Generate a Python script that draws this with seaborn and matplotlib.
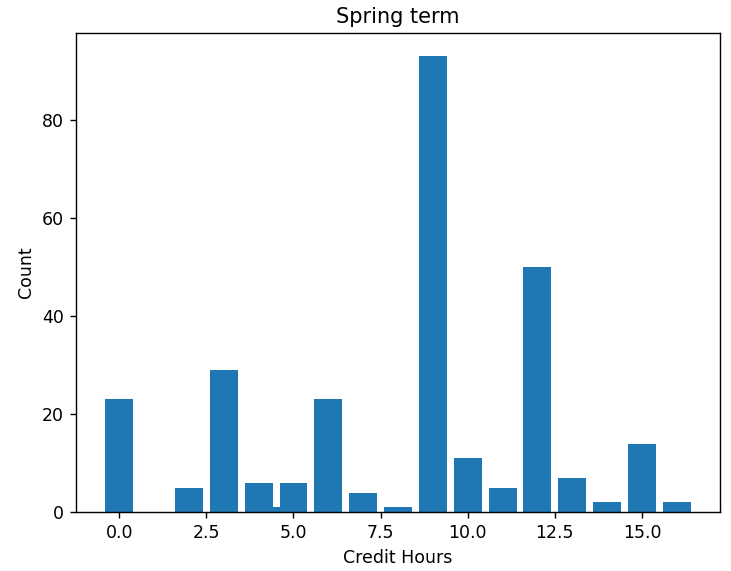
import matplotlib
matplotlib.use("Agg")
import matplotlib.pyplot as plt
import seaborn as sns
import pandas as pd

# Enrollment counts by number of credit hours taken
credit_hours = [0, 2, 3, 4, 4.5, 5, 6, 7, 8, 9, 10, 11, 12, 13, 14, 15, 16]
counts = [23, 5, 29, 6, 1, 6, 23, 4, 1, 93, 11, 5, 50, 7, 2, 14, 2]

df = pd.DataFrame({"Credit Hours": credit_hours, "Count": counts})

DPI = 125
fig, ax = plt.subplots(figsize=(731 / DPI, 571 / DPI), dpi=DPI)
fig.subplots_adjust(left=0.104, right=0.985, bottom=0.103, top=0.942)

# native positions; smallest spacing is 0.5, so width 1.6 gives 0.8-wide bars
sns.barplot(data=df, x="Credit Hours", y="Count", native_scale=True,
            width=1.6, color="#1f77b4", saturation=1, linewidth=0,
            edgecolor="none", errorbar=None, ax=ax)

ax.set_title("Spring term")
ax.set_xlabel("Credit Hours")
ax.set_ylabel("Count")

fig.savefig("out.png", dpi=DPI)
